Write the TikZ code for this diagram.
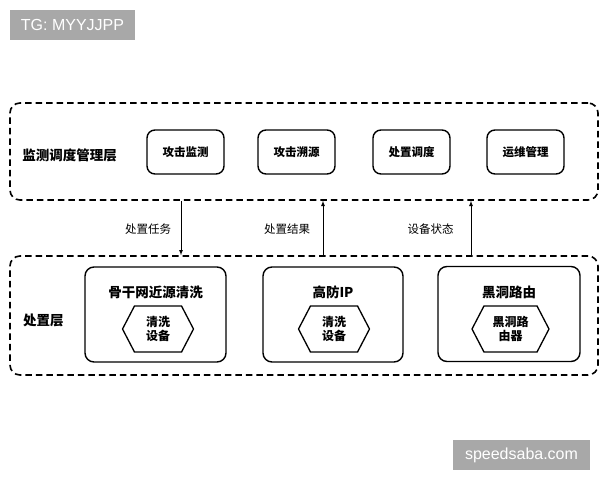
\documentclass[tikz,border=0pt]{standalone}
\usepackage{fontspec}
\newfontfamily\cjk{Noto Sans CJK SC}
\newfontfamily\latin{Liberation Sans}
\usetikzlibrary{arrows,shapes.symbols}
\definecolor{badgegray}{RGB}{168,168,168}
\tikzset{
  layer/.style={draw, line width=1.6pt, dash pattern=on 6.5pt off 4pt, rounded corners=10pt},
  unit/.style={draw, line width=1.4pt, rounded corners=8pt, minimum width=77pt, minimum height=44pt,
    font=\cjk\bfseries\fontsize{11.5}{13}\selectfont},
  site/.style={draw, line width=1.4pt, rounded corners=9pt, minimum height=95pt},
  dev/.style={draw, line width=1.3pt, signal, signal to=west and east, signal pointer angle=125,
    inner sep=1pt, align=center, minimum height=46pt, font=\cjk\bfseries\fontsize{12}{14.5}\selectfont},
  title/.style={font=\cjk\bfseries\fontsize{13.5}{16}\selectfont},
  lab/.style={font=\cjk\fontsize{11.5}{13}\selectfont},
  badge/.style={fill=badgegray, text=white, minimum height=30pt, inner sep=0pt, font=\latin\fontsize{16}{18}\selectfont}
}
\begin{document}
\begin{tikzpicture}[x=1pt,y=-1pt]
  \useasboundingbox (0,0) rectangle (600,480);
  % watermarks
  \node[badge, minimum width=125pt] (tg) at (72.5,25) {TG: MYYJJPP};
  \node[badge, minimum width=137pt] (web) at (521.5,455) {speedsaba.com};
  % layers
  \node[layer, minimum width=588pt, minimum height=97pt] (mgmt) at (304,151.5) {};
  \node[layer, minimum width=588pt, minimum height=119pt] (exec) at (304,315.5) {};
  \node[title] (mgmtL) at (69.5,155) {监测调度管理层};
  \node[title] (execL) at (43.5,320) {处置层};
  % management units
  \node[unit] (mon) at (185.5,152) {攻击监测};
  \node[unit] (trace) at (296.5,152) {攻击溯源};
  \node[unit] (disp) at (411.5,152) {处置调度};
  \node[unit] (ops) at (525.5,152) {运维管理};
  % execution sites
  \node[site, minimum width=141pt] (bb) at (155.5,314.5) {};
  \node[site, minimum width=140pt] (hip) at (333,314.5) {};
  \node[site, minimum width=142pt] (bh) at (509,314) {};
  \node[title] (bbT) at (155.5,292) {骨干网近源清洗};
  \node[title] (hipT) at (333,292) {高防IP};
  \node[title] (bhT) at (509,292) {黑洞路由};
  \node[dev, minimum width=71pt] (bbD) at (158,329) {清洗\\设备};
  \node[dev, minimum width=71pt] (hipD) at (334,329) {清洗\\设备};
  \node[dev, minimum width=77pt] (bhD) at (510.5,329) {黑洞路\\由器};
  % links
  \coordinate (a1) at (181,0);
  \coordinate (a2) at (323,0);
  \coordinate (a3) at (471,0);
  \draw[->, >=latex, line width=0.8pt] (mgmt.south -| a1) -- (exec.north -| a1);
  \draw[->, >=latex, line width=0.8pt] (exec.north -| a2) -- (mgmt.south -| a2);
  \draw[->, >=latex, line width=0.8pt] (exec.north -| a3) -- (mgmt.south -| a3);
  \node[lab] (task) at (148,229) {处置任务};
  \node[lab] (res) at (287,229) {处置结果};
  \node[lab] (state) at (430.5,229) {设备状态};
\end{tikzpicture}
\end{document}
